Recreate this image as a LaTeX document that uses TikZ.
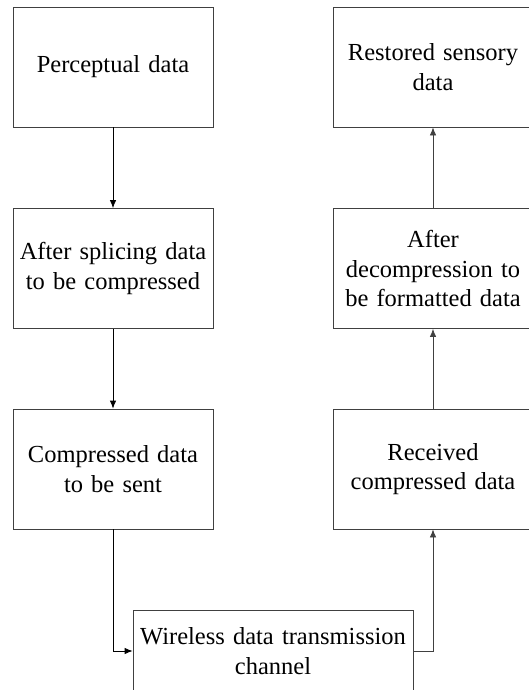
\documentclass[tikz,border=0pt]{standalone}
\usepackage{fontspec}
\setmainfont{Liberation Serif}
\usetikzlibrary{arrows.meta}

\tikzset{
  stage/.style={draw=black!75,line width=0.8pt,minimum width=200pt,minimum height=120pt,
    align=center,text width=196pt,inner sep=0pt,font=\fontsize{24.5}{29.5}\selectfont},
  flow/.style={line width=0.8pt,-{Latex[length=8pt,width=6.5pt]}}
}

\begin{document}
\begin{tikzpicture}[x=1pt,y=-1pt]
                \useasboundingbox (0,0) rectangle (528,690);
                % sender side
                \node[stage] (perc) at (113,67) {Perceptual data};
                \node[stage] (splice) at (113,268.5) {After splicing data\\to be compressed};
                \node[stage] (send) at (113,469) {Compressed data\\to be sent};
                % receiver side
                \node[stage] (restore) at (433,67) {Restored sensory\\data};
                \node[stage] (decomp) at (433,268.5) {After\\decompression to\\be formatted data};
                \node[stage] (recv) at (433,469) {Received\\compressed data};
                % channel
                \node[stage,minimum width=280pt,minimum height=82pt,text width=278pt] (chan) at (273,651) {Wireless data transmission\\channel};
                \draw[flow] (perc.south)--(splice.north);
                \draw[flow] (splice.south)--(send.north);
                \draw[flow] (send.south)|-(chan.west);
                \draw[flow,black!75] (chan.east)-|(recv.south);
                \draw[flow,black!75] (recv.north)--(decomp.south);
                \draw[flow,black!75] (decomp.north)--(restore.south);
            \end{tikzpicture}
\end{document}
